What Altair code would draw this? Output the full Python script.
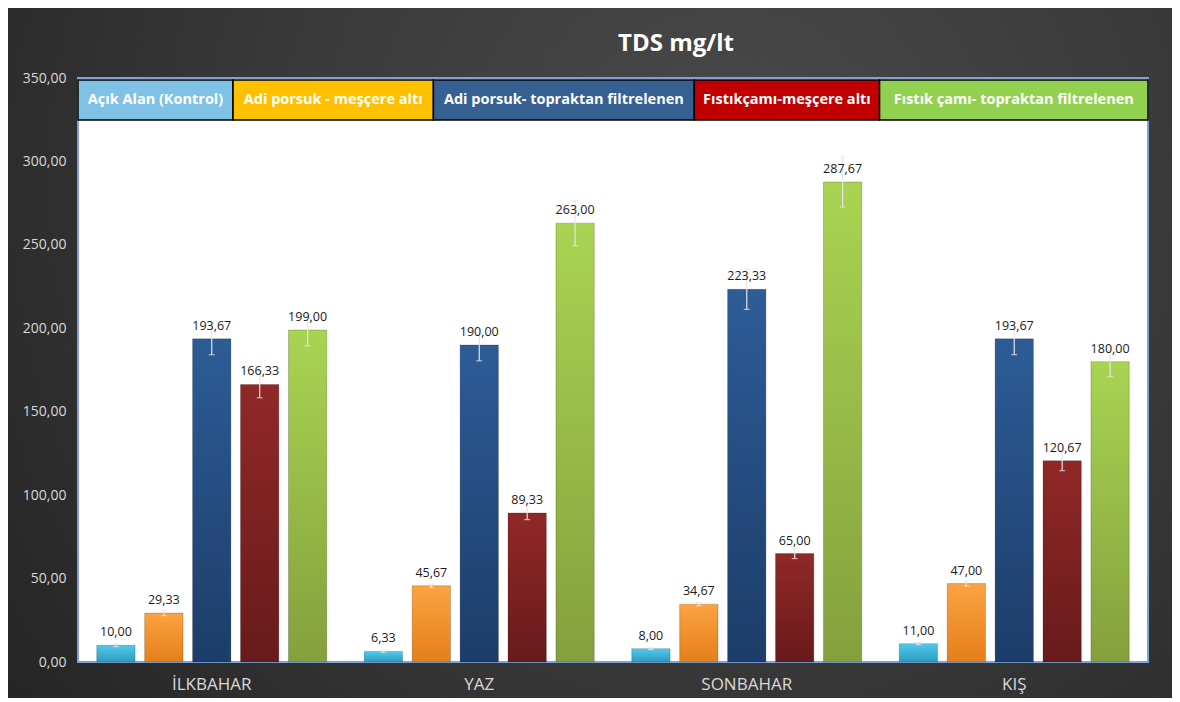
import altair as alt
import pandas as pd

seasons = ["İLKBAHAR", "YAZ", "SONBAHAR", "KIŞ"]
series = [
    "Açık Alan (Kontrol)",
    "Adi porsuk - meşçere altı",
    "Adi porsuk- topraktan filtrelenen",
    "Fıstıkçamı-meşçere altı",
    "Fıstık çamı- topraktan filtrelenen",
]
acik_alan = [10.00, 6.33, 8.00, 11.00]
adi_mescere = [29.33, 45.67, 34.67, 47.00]
adi_toprak = [193.67, 190.00, 223.33, 193.67]
fistik_mescere = [166.33, 89.33, 65.00, 120.67]
fistik_toprak = [199.00, 263.00, 287.67, 180.00]

err_acik_alan = [0.8, 0.5, 0.5, 0.6]
err_adi_mescere = [1.5, 1.0, 1.0, 1.5]
err_adi_toprak = [9.5, 9.5, 12.0, 9.5]
err_fistik_mescere = [8.0, 4.0, 3.0, 6.0]
err_fistik_toprak = [9.5, 13.5, 15.0, 9.0]

bar_top_colors = ["#52c9ec", "#fca342", "#2d5c97", "#912828", "#a9d452"]
bar_bottom_colors = ["#2a9cc0", "#e47f19", "#1c3d69", "#681a1a", "#84a03d"]
legend_colors = ["#7fc2e5", "#ffc000", "#366092", "#c00000", "#92d050"]

values = [acik_alan, adi_mescere, adi_toprak, fistik_mescere, fistik_toprak]
errors = [err_acik_alan, err_adi_mescere, err_adi_toprak, err_fistik_mescere, err_fistik_toprak]

rows = []
for s, vals, errs in zip(series, values, errors):
    for season, v, e in zip(seasons, vals, errs):
        rows.append({
            "season": season, "series": s, "value": v,
            "lo": v - e, "hi": v + e,
            "label": f"{v:.2f}".replace(".", ","),
        })
df = pd.DataFrame(rows)

# legend boxes: widths derived from label length
leg_rows = []
pos = 0.0
for s, c in zip(series, legend_colors):
    w = len(s) + 1.5
    leg_rows.append({"series": s, "x0": pos, "x1": pos + w, "xm": pos + w / 2, "color": c})
    pos += w
leg = pd.DataFrame(leg_rows)
leg_total = pos

W, H = 1070, 584
PL, PT, PR, PB = 70, 70, 24, 36
FONT = "Open Sans"

one = pd.DataFrame({"a": [0]})

bg = alt.Chart(one).mark_rect(
    clip=False,
    fill=alt.RadialGradient(
        gradient="radial",
        x1=0.62, y1=0.35, r1=0.0,
        x2=0.62, y2=0.35, r2=0.75,
        stops=[
            alt.GradientStop(color="#4a4a4a", offset=0),
            alt.GradientStop(color="#3a3a3a", offset=0.5),
            alt.GradientStop(color="#262626", offset=1),
        ],
    ),
).encode(x=alt.value(-PL), x2=alt.value(W + PR), y=alt.value(-PT), y2=alt.value(H + PB))

plot_bg = alt.Chart(one).mark_rect(
    fill="white", stroke="#7da3d6", strokeWidth=2
).encode(x=alt.value(0), x2=alt.value(W), y=alt.value(0), y2=alt.value(H))

x_scale = alt.Scale(domain=seasons, paddingInner=0.14, paddingOuter=0.07)
xo_scale = alt.Scale(domain=series, paddingInner=0.2, paddingOuter=0)
y_scale = alt.Scale(domain=[0, 350], nice=False, zero=True)

x_axis_enc = alt.X(
    "season:N", sort=seasons, title=None, scale=x_scale,
    axis=alt.Axis(labelColor="#d9d9d9", labelFontSize=17, labelFont=FONT, labelAngle=0,
                  ticks=False, domain=False, labelPadding=14, zindex=2),
)
y_axis_enc = alt.Y(
    "value:Q", scale=y_scale, title=None,
    axis=alt.Axis(values=[0, 50, 100, 150, 200, 250, 300, 350],
                  labelExpr="replace(format(datum.value, '.2f'), '.', ',')",
                  labelColor="#d9d9d9", labelFontSize=14, labelFont=FONT,
                  ticks=False, domain=False, grid=False, labelPadding=12, zindex=2),
)

base = alt.Chart(df)

bar_layers = []
for i, (s, top, bot) in enumerate(zip(series, bar_top_colors, bar_bottom_colors)):
    grad = alt.LinearGradient(
        gradient="linear", x1=0, y1=0, x2=0, y2=1,
        stops=[alt.GradientStop(color=top, offset=0), alt.GradientStop(color=bot, offset=1)],
    )
    layer = base.transform_filter(alt.datum.series == s).mark_bar(
        fill=grad, stroke="#00000030", strokeWidth=1
    ).encode(
        x=x_axis_enc if i == 0 else alt.X("season:N", sort=seasons, scale=x_scale),
        xOffset=alt.XOffset("series:N", sort=series, scale=xo_scale),
        y=y_axis_enc if i == 0 else alt.Y("value:Q", scale=y_scale),
    )
    bar_layers.append(layer)

common = dict(
    x=alt.X("season:N", sort=seasons, scale=x_scale),
    xOffset=alt.XOffset("series:N", sort=series, scale=xo_scale),
)
err = base.mark_rule(color="#e6e6e6", strokeWidth=1.2).encode(
    y=alt.Y("lo:Q", scale=y_scale), y2="hi:Q", **common
)
cap_lo = base.mark_tick(color="#e6e6e6", size=6, thickness=1.2).encode(
    y=alt.Y("lo:Q", scale=y_scale), **common
)
cap_hi = base.mark_tick(color="#e6e6e6", size=6, thickness=1.2).encode(
    y=alt.Y("hi:Q", scale=y_scale), **common
)
labels = base.mark_text(baseline="bottom", dy=-6, fontSize=12.5, font=FONT, color="#1a1a1a").encode(
    y=alt.Y("value:Q", scale=y_scale), text="label:N", **common
)

main = alt.layer(*bar_layers, err, cap_lo, cap_hi, labels)

leg_x = alt.Scale(domain=[0, leg_total], nice=False, zero=False)
leg_rect = alt.Chart(leg).mark_rect(stroke="black", strokeWidth=1.5).encode(
    x=alt.X("x0:Q", scale=leg_x, axis=None), x2="x1:Q",
    y=alt.value(2), y2=alt.value(42),
    fill=alt.Fill("color:N", scale=None),
)
leg_text = alt.Chart(leg).mark_text(fontSize=14.5, font=FONT, fontWeight="bold", color="white").encode(
    x=alt.X("xm:Q", scale=leg_x, axis=None),
    y=alt.value(22), text="series:N",
)
legend = alt.layer(leg_rect, leg_text)

chart = alt.layer(bg, plot_bg, main, legend).resolve_scale(x="independent").properties(
    width=W, height=H,
    autosize=alt.AutoSizeParams(type="none"),
    padding={"left": PL, "top": PT, "right": PR, "bottom": PB},
    background="#262626",
    title=alt.TitleParams("TDS mg/lt", color="white", fontSize=24, font=FONT,
                          fontWeight="bold", dx=63, offset=-48, anchor="middle"),
).configure_view(stroke=None)

chart.save("out.html", embed_options={"renderer": "svg", "actions": False})
